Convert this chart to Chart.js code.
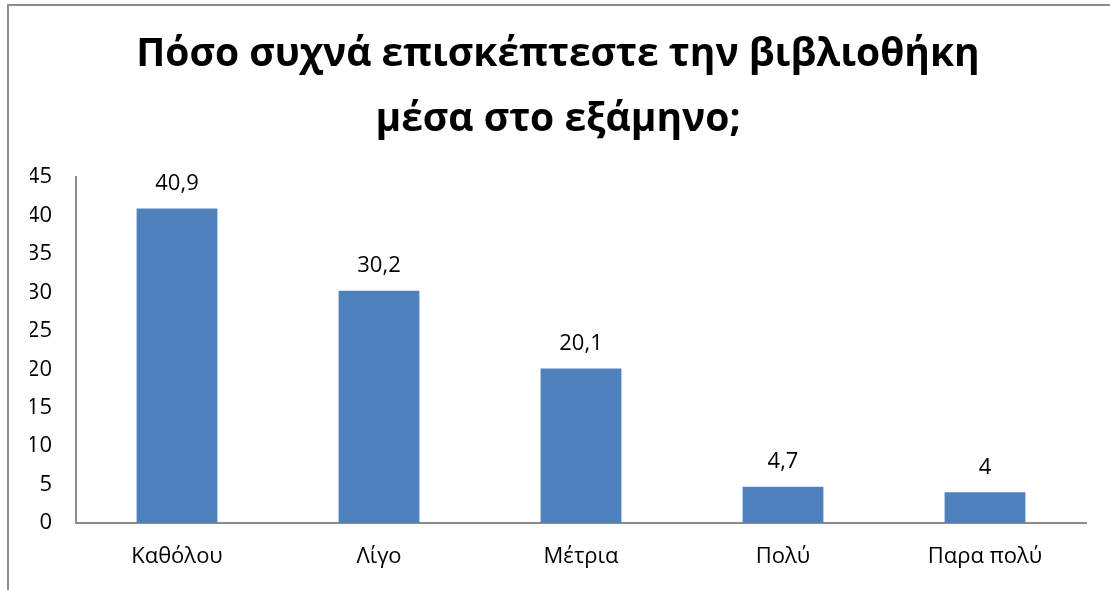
<!DOCTYPE html>
<html>
<head>
<meta charset="utf-8">
<script src="https://cdn.jsdelivr.net/npm/chart.js@4"></script>
<style>
  html, body { margin: 0; padding: 0; background: #fff; }
  #wrap { position: relative; width: 1110px; height: 590px; }
  #frame { position: absolute; left: 7px; top: 4px; right: -4px; bottom: -4px; border-left: 2px solid #8c8c8c; border-top: 2px solid #8c8c8c; }
</style>
</head>
<body>
<div id="wrap">
  <div id="frame"></div>
  <canvas id="chart" width="1110" height="590"></canvas>
</div>
<script>
// ── data ─────────────────────────────────────────────────────────────────────
const titleLines = ['Πόσο συχνά επισκέπτεστε την βιβλιοθήκη', 'μέσα στο εξάμηνο;'];
const categories = ['Καθόλου', 'Λίγο', 'Μέτρια', 'Πολύ', 'Παρα πολύ'];
const values     = [40.9, 30.2, 20.1, 4.7, 4];

const FONT = '"Open Sans", "Noto Sans", sans-serif';
const fmt  = v => String(v).replace('.', ',');

// etikety hodnôt nad stĺpcami
const valueLabels = {
  id: 'valueLabels',
  afterDatasetsDraw(chart) {
    const { ctx } = chart;
    const meta = chart.getDatasetMeta(0);
    ctx.save();
    ctx.font = `22px ${FONT}`;
    ctx.fillStyle = '#000';
    ctx.textAlign = 'center';
    ctx.textBaseline = 'middle';
    meta.data.forEach((bar, i) => {
      ctx.fillText(fmt(values[i]), bar.x, bar.y - 25);
    });
    ctx.restore();
  },
};

new Chart(document.getElementById('chart'), {
  type: 'bar',
  data: {
    labels: categories,
    datasets: [{
      data: values,
      backgroundColor: '#4f81bd',
      borderWidth: 0,
      barPercentage: 0.4,
      categoryPercentage: 1,
    }],
  },
  options: {
    responsive: false,
    animation: false,
    layout: { padding: { left: 30, right: 24, top: 0, bottom: 0 } },
    plugins: {
      legend: { display: false },
      tooltip: { enabled: false },
      title: {
        display: true,
        text: titleLines,
        color: '#000',
        font: { family: FONT, size: 39, weight: 'bold', lineHeight: 1.68 },
        padding: { top: 22, bottom: 24 },
      },
    },
    scales: {
      x: {
        grid: { display: false, drawTicks: false },
        border: { color: '#8c8c8c', width: 2 },
        ticks: { color: '#000', font: { family: FONT, size: 22 }, padding: 21 },
        afterFit: s => { s.height = 67; },
      },
      y: {
        min: 0, max: 45,
        grid: { display: false, drawOnChartArea: false, drawTicks: true, tickLength: 6, color: '#8c8c8c', tickWidth: 2 },
        border: { color: '#8c8c8c', width: 2 },
        ticks: { stepSize: 5, color: '#000', font: { family: FONT, size: 22 }, padding: 18 },
        afterFit: s => { s.width = 46; },
      },
    },
  },
  plugins: [valueLabels],
});
</script>
</body>
</html>
